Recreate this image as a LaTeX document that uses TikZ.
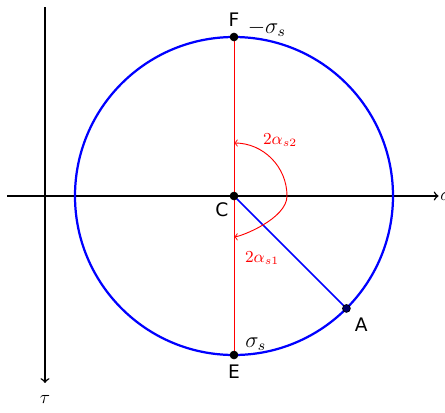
\documentclass[tikz,border=0pt]{standalone}
\usepackage{fontspec}
\setmainfont{DejaVu Sans}

\begin{document}
\begin{tikzpicture}
[
	dotpt/.style={circle,draw,fill,inner sep=0pt,minimum size=4.2pt},
	axis/.style={->,line width=0.8pt},
	angarc/.style={<->,red,line width=0.5pt},
	anglbl/.style={red,font=\small}
]
	\useasboundingbox (-4.415,-4.094) rectangle (3.981,3.698);

	% points
	\coordinate (C) at (0,0);
	\coordinate (F) at (90:3);
	\coordinate (E) at (-90:3);
	\coordinate (A) at (-45:3);
	\coordinate (S) at (0,-0.77);

	% axes
	\coordinate (xl) at (-4.28,0);
	\coordinate (xr) at (3.86,0);
	\coordinate (yt) at (-3.566,3.566);
	\coordinate (yb) at (-3.566,-3.528);
	\draw[axis] (xl) -- (xr) node[right,inner sep=0.5pt] (sig) {$\sigma$};
	\draw[axis] (yt) -- (yb) node[below,yshift=-3pt] (tau) {$\tau$};

	% circle and diameters
	\draw[blue,line width=1.2pt] (C) circle (3);
	\draw[red,line width=0.45pt] (F) -- (E);
	\draw[blue,line width=0.8pt] (C) -- (A);

	% angles
	\draw[angarc] (S) .. controls (0.12,-0.77) and (1,-0.43) .. (1,0) arc (0:90:1);
	\node[anglbl] (a2) at (0.87,1.06) {$2\alpha_{s2}$};
	\node[anglbl] (a1) at (0.53,-1.17) {$2\alpha_{s1}$};

	% points and labels
	\node[dotpt] (Cp) at (C) {};
	\node[dotpt] (Fp) at (F) {};
	\node[dotpt] (Ep) at (E) {};
	\node[dotpt,fill=blue!40!black] (Ap) at (A) {};
	\node (Cl) at (-0.23,-0.25) {C};
	\node (Fl) at (0,3.32) {F};
	\node (El) at (0,-3.32) {E};
	\node (Al) at (2.40,-2.43) {A};
	\node[font=\large] (mfs) at (0.62,3.16) {$-\sigma_s$};
	\node[font=\large] (fs) at (0.41,-2.79) {$\sigma_s$};

\end{tikzpicture}
\end{document}
